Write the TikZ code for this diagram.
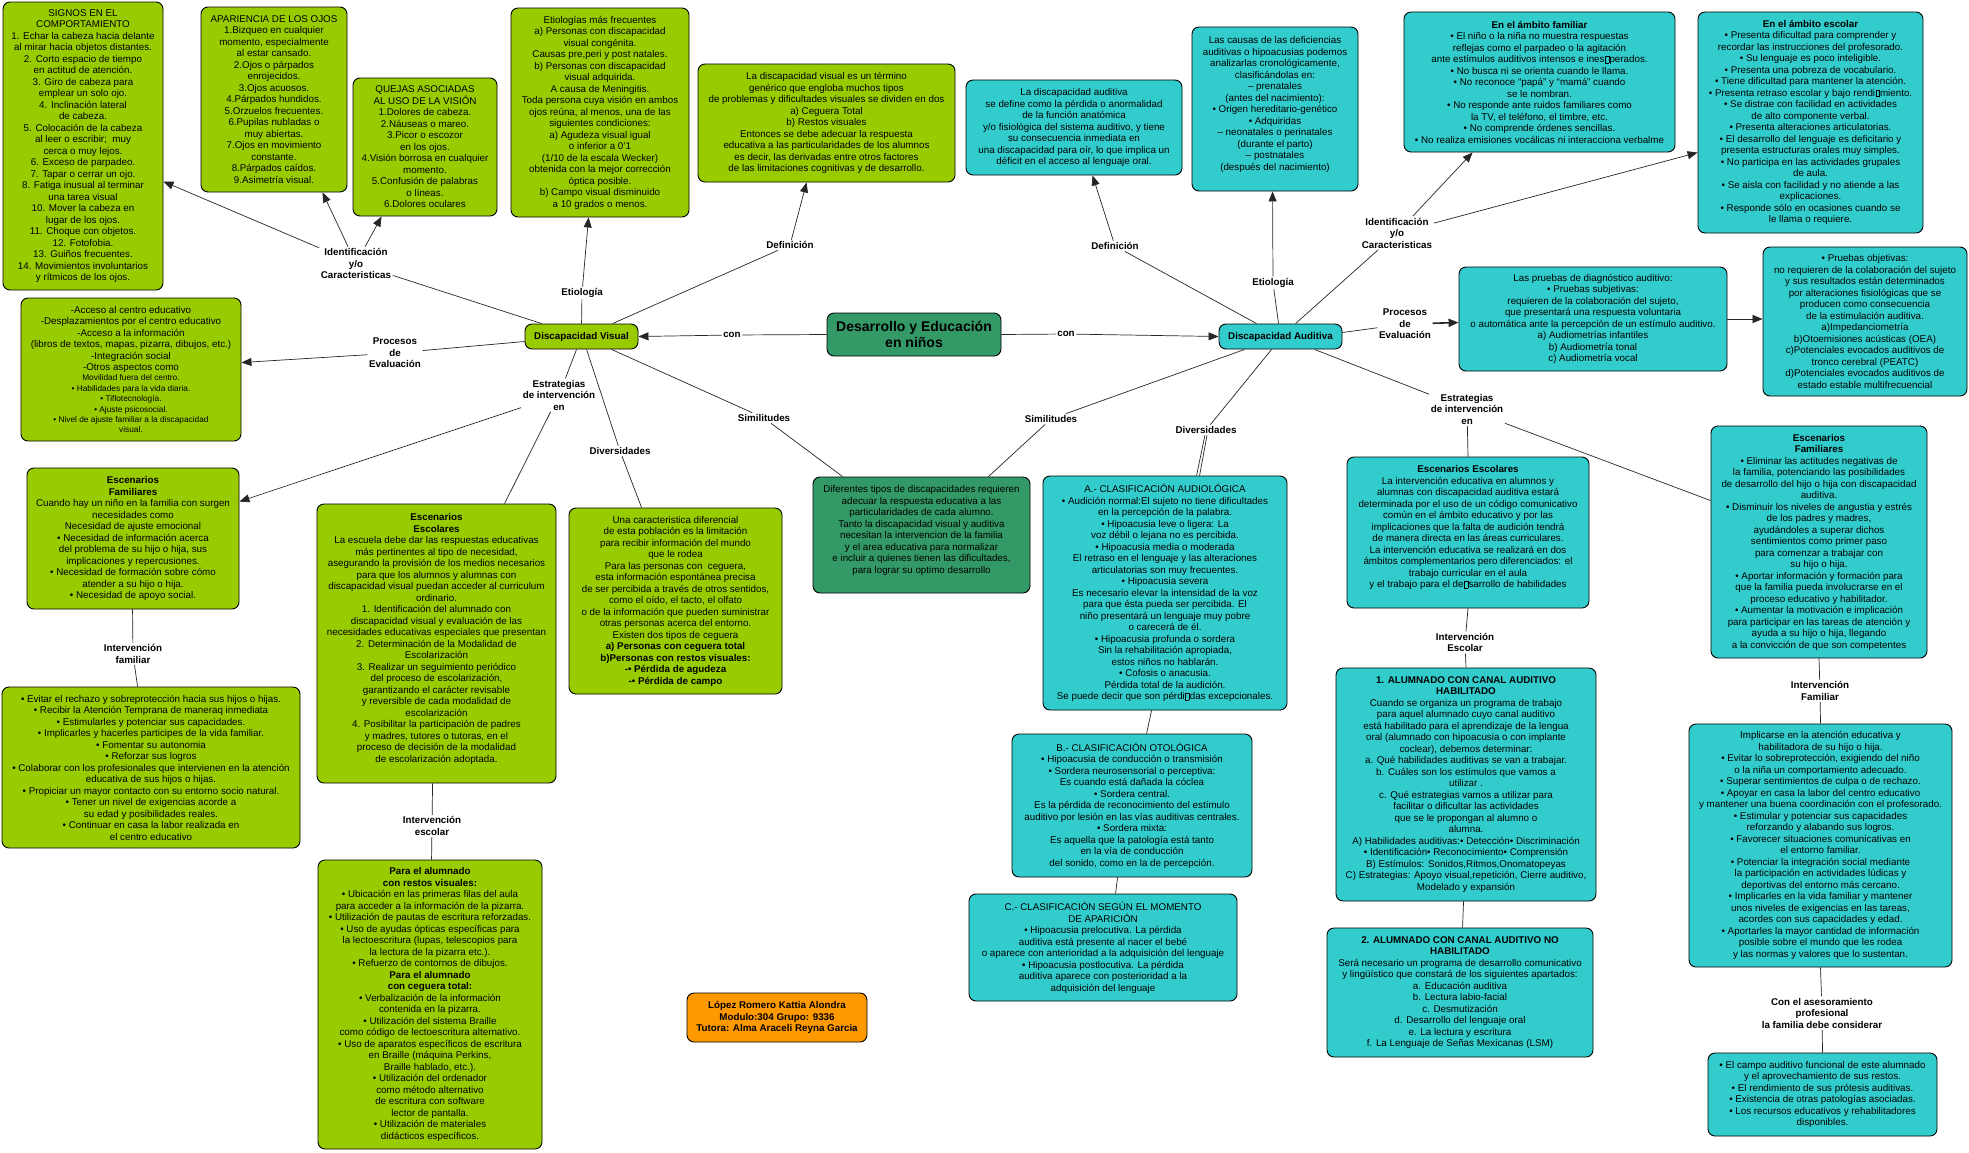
\documentclass[tikz,border=0pt]{standalone}
\usepackage{fontspec}
\setmainfont{Liberation Sans}
\usetikzlibrary{arrows.meta,calc}
\definecolor{cmGreen}{HTML}{99CC00}
\definecolor{cmTeal}{HTML}{33CCCC}
\definecolor{cmDark}{HTML}{339966}
\definecolor{cmOrange}{HTML}{FF9900}
\newcommand{\tx}{\fontsize{9.8}{11.5}\selectfont}
\newcommand{\smf}{\fontsize{8.3}{10}\selectfont}
\newcommand{\gbx}{\kern0.4pt{\setlength{\fboxsep}{0pt}\setlength{\fboxrule}{0.3pt}\fbox{\rule{0pt}{6.5pt}\hspace{3.5pt}}}\kern0.4pt}
\begin{document}
\begin{tikzpicture}[x=1pt,y=-1pt,
 bx/.style={draw=black, line width=0.9pt, rounded corners=7pt, align=center, font=\tx, inner sep=2pt, text=black},
 gb/.style={bx, fill=cmGreen},
 tb/.style={bx, fill=cmTeal},
 db/.style={bx, fill=cmDark},
 ob/.style={bx, fill=cmOrange},
 lbl/.style={font=\tx\bfseries, align=center, inner sep=1.5pt},
 conn/.style={line width=0.7pt, draw=black!85},
 arr/.style={conn, -{Triangle[length=10pt,width=8pt]}}]
\fill[white] (0,0) rectangle (1969,1152);
\useasboundingbox (0,0) rectangle (1969,1152);

% ---------------- central ----------------
\node[db, minimum width=174pt, minimum height=43pt, font=\fontsize{14}{16.5}\selectfont\bfseries] (des) at (914,334.5) {Desarrollo y Educación\\en niños};
\node[gb, minimum width=113pt, minimum height=25pt, font=\tx\bfseries] (dv) at (581.5,336.5) {Discapacidad Visual};
\node[tb, minimum width=123pt, minimum height=25pt, font=\tx\bfseries] (da) at (1280.5,336.5) {Discapacidad Auditiva};

% ---------------- visual boxes ----------------
\node[gb, minimum width=160pt, minimum height=288pt] (signos) at (83,146) {SIGNOS EN EL\\
COMPORTAMIENTO\\
1. Echar la cabeza hacia delante\\
al mirar hacia objetos distantes.\\
2. Corto espacio de tiempo\\
en actitud de atención.\\
3. Giro de cabeza para\\
emplear un solo ojo.\\
4. Inclinación lateral\\
de cabeza.\\
5. Colocación de la cabeza\\
al leer o escribir;\ \ muy\\
cerca o muy lejos.\\
6. Exceso de parpadeo.\\
7. Tapar o cerrar un ojo.\\
8. Fatiga inusual al terminar\\
una tarea visual\\
10. Mover la cabeza en\\
lugar de los ojos.\\
11. Choque con objetos.\\
12. Fotofobia.\\
13. Guiños frecuentes.\\
14. Movimientos involuntarios\\
y rítmicos de los ojos.};

\node[gb, minimum width=146pt, minimum height=185pt] (apar) at (274,99.5) {APARIENCIA DE LOS OJOS\\
1.Bizqueo en cualquier\\
momento, especialmente\\
al estar cansado.\\
2.Ojos o párpados\\
enrojecidos.\\
3.Ojos acuosos.\\
4.Párpados hundidos.\\
5.Orzuelos frecuentes.\\
6.Pupilas nubladas o\\
muy abiertas.\\
7.Ojos en movimiento\\
constante.\\
8.Párpados caídos.\\
9.Asimetría visual.};

\node[gb, minimum width=144pt, minimum height=138pt] (quejas) at (425,147) {QUEJAS ASOCIADAS\\
AL USO DE LA VISIÓN\\
1.Dolores de cabeza.\\
2.Náuseas o mareo.\\
3.Picor o escozor\\
en los ojos.\\
4.Visión borrosa en cualquier\\
momento.\\
5.Confusión de palabras\\
o líneas.\\
6.Dolores oculares};

\node[gb, minimum width=178pt, minimum height=209pt] (etv) at (600,112.5) {Etiologías más frecuentes\\
a) Personas con discapacidad\\
visual congénita.\\
Causas pre,peri y post natales.\\
b) Personas con discapacidad\\
visual adquirida.\\
A causa de Meningitis.\\
Toda persona cuya visión en ambos\\
ojos reúna, al menos, una de las\\
siguientes condiciones:\\
a) Agudeza visual igual\\
o inferior a 0'1\\
(1/10 de la escala Wecker)\\
obtenida con la mejor corrección\\
óptica posible.\\
b) Campo visual disminuido\\
a 10 grados o menos.};

\node[gb, minimum width=257pt, minimum height=118pt] (defv) at (826.5,123) {La discapacidad visual es un término\\
genérico que engloba muchos tipos\\
de problemas y dificultades visuales se dividen en dos\\
a) Ceguera Total\\
b) Restos visuales\\
Entonces se debe adecuar la respuesta\\
educativa a las particularidades de los alumnos\\
es decir, las derivadas entre otros factores\\
de las limitaciones cognitivas y de desarrollo.};

\node[gb, minimum width=220pt, minimum height=143pt] (evalv) at (131,369.5) {-Acceso al centro educativo\\
-Desplazamientos por el centro educativo\\
-Acceso a la información\\
(libros de textos, mapas, pizarra, dibujos, etc.)\\
-Integración social\\
-Otros aspectos como\\[-1.1pt]
\smf Movilidad fuera del centro.\\[-1.1pt]
\smf • Habilidades para la vida diaria.\\[-1.1pt]
\smf • Tiflotecnología.\\[-1.1pt]
\smf • Ajuste psicosocial.\\[-1.1pt]
\smf • Nivel de ajuste familiar a la discapacidad\\[-1.1pt]
\smf visual.};

\node[gb, minimum width=212pt, minimum height=141pt] (escfamv) at (133,538.5) {\textbf{Escenarios}\\
\textbf{Familiares}\\
Cuando hay un niño en la familia con surgen\\
necesidades como\\
Necesidad de ajuste emocional\\
• Necesidad de información acerca\\
del problema de su hijo o hija, sus\\
implicaciones y repercusiones.\\
• Necesidad de formación sobre cómo\\
atender a su hijo o hija.\\
• Necesidad de apoyo social.};

\node[gb, minimum width=298pt, minimum height=161pt] (intfamv) at (151,767.5) {• Evitar el rechazo y sobreprotección hacia sus hijos o hijas.\\
• Recibir la Atención Temprana de maneraq inmediata\\
• Estimularles y potenciar sus capacidades.\\
• Implicarles y hacerles participes de la vida familiar.\\
• Fomentar su autonomia\\
• Reforzar sus logros\\
• Colaborar con los profesionales que intervienen en la atención\\
educativa de sus hijos o hijas.\\
• Propiciar un mayor contacto con su entorno socio natural.\\
• Tener un nivel de exigencias acorde a\\
su edad y posibilidades reales.\\
• Continuar en casa la labor realizada en\\
el centro educativo};

\node[gb, minimum width=239pt, minimum height=279pt] (escescv) at (436.5,643.5) {\textbf{Escenarios}\\
\textbf{Escolares}\\
La escuela debe dar las respuestas educativas\\
más pertinentes al tipo de necesidad,\\
asegurando la provisión de los medios necesarios\\
para que los alumnos y alumnas con\\
discapacidad visual puedan acceder al curriculum\\
ordinario.\\
1. Identificación del alumnado con\\
discapacidad visual y evaluación de las\\
necesidades educativas especiales que presentan\\
2. Determinación de la Modalidad de\\
Escolarización\\
3. Realizar un seguimiento periódico\\
del proceso de escolarización,\\
garantizando el carácter revisable\\
y reversible de cada modalidad de\\
escolarización\\
4. Posibilitar la participación de padres\\
y madres, tutores o tutoras, en el\\
proceso de decisión de la modalidad\\
de escolarización adoptada.\\
\mbox{}};

\node[gb, minimum width=224pt, minimum height=289pt] (paraalu) at (430,1004.5) {\textbf{Para el alumnado}\\
\textbf{con restos visuales:}\\
• Ubicación en las primeras filas del aula\\
para acceder a la información de la pizarra.\\
• Utilización de pautas de escritura reforzadas.\\
• Uso de ayudas ópticas específicas para\\
la lectoescritura (lupas, telescopios para\\
la lectura de la pizarra etc.).\\
• Refuerzo de contornos de dibujos.\\
\textbf{Para el alumnado}\\
\textbf{con ceguera total:}\\
• Verbalización de la información\\
contenida en la pizarra.\\
• Utilización del sistema Braille\\
como código de lectoescritura alternativo.\\
• Uso de aparatos específicos de escritura\\
en Braille (máquina Perkins,\\
Braille hablado, etc.).\\
• Utilización del ordenador\\
como método alternativo\\
de escritura con software\\
lector de pantalla.\\
• Utilización de materiales\\
didácticos específicos.};

\node[gb, minimum width=213pt, minimum height=186pt] (divv) at (675.5,601) {Una caracteristica diferencial\\
de esta población es la limitación\\
para recibir información del mundo\\
que le rodea\\
Para las personas con\ \ ceguera,\\
esta información espontánea precisa\\
de ser percibida a través de otros sentidos,\\
como el oído, el tacto, el olfato\\
o de la información que pueden suministrar\\
otras personas acerca del entorno.\\
Existen dos tipos de ceguera\\
\textbf{a) Personas con ceguera total}\\
\textbf{b)Personas con restos visuales:}\\
\textbf{-• Pérdida de agudeza}\\
\textbf{-• Pérdida de campo}};

\node[db, minimum width=217pt, minimum height=116pt] (sim) at (921.5,535) {Diferentes tipos de discapacidades requieren\\
adecuar la respuesta educativa a las\\
particularidades de cada alumno.\\
Tanto la discapacidad visual y auditiva\\
necesitan la intervencion de la familia\\
y el area educativa para normalizar\\
e incluir a quienes tienen las dificultades,\\
para lograr su optimo desarrollo\\
\mbox{}};

\node[ob, minimum width=180pt, minimum height=49pt, font=\tx\bfseries] (author) at (777,1017.5) {López Romero Kattia Alondra\\
Modulo:304 Grupo: 9336\\
Tutora: Alma Araceli Reyna Garcia};

% ---------------- auditiva boxes ----------------
\node[tb, minimum width=216pt, minimum height=95pt] (defa) at (1074,127.5) {La discapacidad auditiva\\
se define como la pérdida o anormalidad\\
de la función anatómica\\
y/o fisiológica del sistema auditivo, y tiene\\
su consecuencia inmediata en\\
una discapacidad para oír, lo que implica un\\
déficit en el acceso al lenguaje oral.};

\node[tb, minimum width=166pt, minimum height=164pt] (eta) at (1275,109) {Las causas de las deficiencias\\
auditivas o hipoacusias podemos\\
analizarlas cronológicamente,\\
clasificándolas en:\\
– prenatales\\
(antes del nacimiento):\\
• Origen hereditario-genético\\
• Adquiridas\\
– neonatales o perinatales\\
(durante el parto)\\
– postnatales\\
(después del nacimiento)\\
\mbox{}};

\node[tb, minimum width=271pt, minimum height=140pt] (fama) at (1539.5,82) {\textbf{En el ámbito familiar}\\
• El niño o la niña no muestra respuestas\\
reflejas como el parpadeo o la agitación\\
ante estímulos auditivos intensos e ines\gbx perados.\\
• No busca ni se orienta cuando le llama.\\
• No reconoce “papá” y “mamá” cuando\\
se le nombran.\\
• No responde ante ruidos familiares como\\
la TV, el teléfono, el timbre, etc.\\
• No comprende órdenes sencillas.\\
• No realiza emisiones vocálicas ni interacciona verbalme};

\node[tb, minimum width=225pt, minimum height=221pt] (esca) at (1810.5,122.5) {\textbf{En el ámbito escolar}\\
• Presenta dificultad para comprender y\\
recordar las instrucciones del profesorado.\\
• Su lenguaje es poco inteligible.\\
• Presenta una pobreza de vocabulario.\\
• Tiene dificultad para mantener la atención.\\
• Presenta retraso escolar y bajo rendi\gbx miento.\\
• Se distrae con facilidad en actividades\\
de alto componente verbal.\\
• Presenta alteraciones articulatorias.\\
• El desarrollo del lenguaje es deficitario y\\
presenta estructuras orales muy simples.\\
• No participa en las actividades grupales\\
de aula.\\
• Se aisla con facilidad y no atiende a las\\
explicaciones.\\
• Responde sólo en ocasiones cuando se\\
le llama o requiere.};

\node[tb, minimum width=268pt, minimum height=104pt] (pruebs) at (1593,319) {Las pruebas de diagnóstico auditivo:\\
• Pruebas subjetivas:\\
requieren de la colaboración del sujeto,\\
que presentará una respuesta voluntaria\\
o automática ante la percepción de un estímulo auditivo.\\
a) Audiometrías infantiles\\
b) Audiometría tonal\\
c) Audiometría vocal};

\node[tb, minimum width=204pt, minimum height=149pt] (pruebo) at (1865,321.5) {• Pruebas objetivas:\\
no requieren de la colaboración del sujeto\\
y sus resultados están determinados\\
por alteraciones fisiológicas que se\\
producen como consecuencia\\
de la estimulación auditiva.\\
a)Impedanciometría\\
b)Otoemisiones acústicas (OEA)\\
c)Potenciales evocados auditivos de\\
tronco cerebral (PEATC)\\
d)Potenciales evocados auditivos de\\
estado estable multifrecuencial};

\node[tb, minimum width=244pt, minimum height=234pt] (aa) at (1165,593) {A.- CLASIFICACIÓN AUDIOLÓGICA\\
• Audición normal:El sujeto no tiene dificultades\\
en la percepción de la palabra.\\
• Hipoacusia leve o ligera: La\\
voz débil o lejana no es percibida.\\
• Hipoacusia media o moderada\\
El retraso en el lenguaje y las alteraciones\\
articulatorias son muy frecuentes.\\
• Hipoacusia severa\\
Es necesario elevar la intensidad de la voz\\
para que ésta pueda ser percibida. El\\
niño presentará un lenguaje muy pobre\\
o carecerá de él.\\
• Hipoacusia profunda o sordera\\
Sin la rehabilitación apropiada,\\
estos niños no hablarán.\\
• Cofosis o anacusia.\\
Pérdida total de la audición.\\
Se puede decir que son pérdi\gbx das excepcionales.};

\node[tb, minimum width=240pt, minimum height=143pt] (bb) at (1132,805.5) {B.- CLASIFICACIÓN OTOLÓGICA\\
• Hipoacusia de conducción o transmisión\\
• Sordera neurosensorial o perceptiva:\\
Es cuando está dañada la cóclea\\
• Sordera central.\\
Es la pérdida de reconocimiento del estímulo\\
auditivo por lesión en las vías auditivas centrales.\\
• Sordera mixta:\\
Es aquella que la patología está tanto\\
en la vía de conducción\\
del sonido, como en la de percepción.};

\node[tb, minimum width=268pt, minimum height=107pt] (cc) at (1103,947.5) {C.- CLASIFICACIÓN SEGÚN EL MOMENTO\\
DE APARICIÓN\\
• Hipoacusia prelocutiva. La pérdida\\
auditiva está presente al nacer el bebé\\
o aparece con anterioridad a la adquisición del lenguaje\\
• Hipoacusia postlocutiva. La pérdida\\
auditiva aparece con posterioridad a la\\
adquisición del lenguaje};

\node[tb, minimum width=242pt, minimum height=151pt] (escesca) at (1468,532.5) {\textbf{Escenarios Escolares}\\
La intervención educativa en alumnos y\\
alumnas con discapacidad auditiva estará\\
determinada por el uso de un código comunicativo\\
común en el ámbito educativo y por las\\
implicaciones que la falta de audición tendrá\\
de manera directa en las áreas curriculares.\\
La intervención educativa se realizará en dos\\
ámbitos complementarios pero diferenciados: el\\
trabajo curricular en el aula\\
y el trabajo para el de\gbx sarrollo de habilidades\\
\mbox{}};

\node[tb, minimum width=260pt, minimum height=233pt] (unoa) at (1466,784.5) {\textbf{1. ALUMNADO CON CANAL AUDITIVO}\\
\textbf{HABILITADO}\\
Cuando se organiza un programa de trabajo\\
para aquel alumnado cuyo canal auditivo\\
está habilitado para el aprendizaje de la lengua\\
oral (alumnado con hipoacusia o con implante\\
coclear), debemos determinar:\\
a. Qué habilidades auditivas se van a trabajar.\\
b. Cuáles son los estímulos que vamos a\\
utilizar .\\
c. Qué estrategias vamos a utilizar para\\
facilitar o dificultar las actividades\\
que se le propongan al alumno o\\
alumna.\\
A) Habilidades auditivas:• Detección• Discriminación\\
• Identificación• Reconocimiento• Comprensión\\
B) Estímulos: Sonidos,Ritmos,Onomatopeyas\\
C) Estrategias: Apoyo visual,repetición, Cierre auditivo,\\
Modelado y expansión};

\node[tb, minimum width=266pt, minimum height=129pt] (dosa) at (1460,992.5) {\textbf{2. ALUMNADO CON CANAL AUDITIVO NO}\\
\textbf{HABILITADO}\\
Será necesario un programa de desarrollo comunicativo\\
y lingüístico que constará de los siguientes apartados:\\
a. Educación auditiva\\
b. Lectura labio-facial\\
c. Desmutización\\
d. Desarrollo del lenguaje oral\\
e. La lectura y escritura\\
f. La Lenguaje de Señas Mexicanas (LSM)};

\node[tb, minimum width=216pt, minimum height=232pt] (escfama) at (1819,542) {\textbf{Escenarios}\\
\textbf{Familiares}\\
• Eliminar las actitudes negativas de\\
la familia, potenciando las posibilidades\\
de desarrollo del hijo o hija con discapacidad\\
auditiva.\\
• Disminuir los niveles de angustia y estrés\\
de los padres y madres,\\
ayudándoles a superar dichos\\
sentimientos como primer paso\\
para comenzar a trabajar con\\
su hijo o hija.\\
• Aportar información y formación para\\
que la familia pueda involucrarse en el\\
proceso educativo y habilitador.\\
• Aumentar la motivación e implicación\\
para participar en las tareas de atención y\\
ayuda a su hijo o hija, llegando\\
a la convicción de que son competentes};

\node[tb, minimum width=263pt, minimum height=243pt] (intfama) at (1820.5,845.5) {Implicarse en la atención educativa y\\
habilitadora de su hijo o hija.\\
• Evitar lo sobreprotección, exigiendo del niño\\
o la niña un comportamiento adecuado.\\
• Superar sentimientos de culpa o de rechazo.\\
• Apoyar en casa la labor del centro educativo\\
y mantener una buena coordinación con el profesorado.\\
• Estimular y potenciar sus capacidades\\
reforzando y alabando sus logros.\\
• Favorecer situaciones comunicativas en\\
el entorno familiar.\\
• Potenciar la integración social mediante\\
la participación en actividades lúdicas y\\
deportivas del entorno más cercano.\\
• Implicarles en la vida familiar y mantener\\
unos niveles de exigencias en las tareas,\\
acordes con sus capacidades y edad.\\
• Aportarles la mayor cantidad de información\\
posible sobre el mundo que les rodea\\
y las normas y valores que lo sustentan.};

\node[tb, minimum width=229pt, minimum height=83pt] (lastb) at (1822.5,1094.5) {• El campo auditivo funcional de este alumnado\\
y el aprovechamiento de sus restos.\\
• El rendimiento de sus prótesis auditivas.\\
• Existencia de otras patologías asociadas.\\
• Los recursos educativos y rehabilitadores\\
disponibles.};

% ---------------- labels ----------------
\node[lbl] (lcv) at (732,335) {con};
\node[lbl] (lca) at (1066,334) {con};
\node[lbl] (letv) at (582,293) {Etiología};
\node[lbl] (ldefv) at (790,245) {Definición};
\node[lbl] (lidv) at (356,263.5) {Identificación\\y/o\\Caracteristicas};
\node[lbl] (lprocv) at (395,353) {Procesos\\de\\Evaluación};
\node[lbl] (lestv) at (559,395) {Estrategias\\de intervención\\en};
\node[lbl] (ldivv) at (620,451) {Diversidades};
\node[lbl] (lsimv) at (764,418) {Similitudes};
\node[lbl] (lifv) at (133,654) {Intervención\\familiar};
\node[lbl] (liev) at (432,826) {Intervención\\escolar};
\node[lbl] (ldefa) at (1115,246) {Definición};
\node[lbl] (leta) at (1273,283) {Etiología};
\node[lbl] (lida) at (1397,233) {Identificación\\y/o\\Caracteristicas};
\node[lbl] (lproca) at (1405,324) {Procesos\\de\\Evaluación};
\node[lbl] (lesta) at (1467,409) {Estrategias\\de intervención\\en};
\node[lbl] (ldiva) at (1206,430) {Diversidades};
\node[lbl] (lsima) at (1051,419) {Similitudes};
\node[lbl] (liea) at (1465,642.5) {Intervención\\Escolar};
\node[lbl] (lifa) at (1820,691) {Intervención\\Familiar};
\node[lbl] (lasea) at (1822,1013) {Con el asesoramiento\\profesional\\la familia debe considerar};

% ---------------- connectors: visual ----------------
\draw[conn] (des.west) -- (lcv);
\draw[arr] (lcv) -- (dv.east);
\draw[conn] ($(dv.north west)+(57,0)$) -- (letv);
\draw[arr] (letv) -- ($(etv.south west)+(78,0)$);
\draw[conn] ($(dv.north west)+(88,0)$) -- (ldefv);
\draw[arr] (ldefv) -- ($(defv.south west)+(109,0)$);
\draw[conn] ($(dv.north west)+(17,0)$) -- (lidv);
\draw[arr] (lidv) -- ($(signos.north east)+(0,180)$);
\draw[arr] (lidv) -- ($(apar.south west)+(122,0)$);
\draw[arr] (lidv) -- ($(quejas.south west)+(29,0)$);
\draw[conn] ($(dv.west)+(0,5)$) -- (lprocv);
\draw[arr] (lprocv) -- ($(evalv.north east)+(0,65)$);
\draw[conn] ($(dv.south west)+(52,0)$) -- (lestv);
\draw[arr] (lestv) -- ($(escfamv.north east)+(0,34)$);
\draw[conn] (lestv) -- ($(escescv.north west)+(188,0)$);
\draw[conn] ($(dv.south west)+(62,0)$) -- (ldivv);
\draw[conn] (ldivv) -- ($(divv.north west)+(73,0)$);
\draw[conn] ($(dv.south west)+(87,0)$) -- (lsimv);
\draw[conn] (lsimv) -- ($(sim.north west)+(30,0)$);
\draw[conn] ($(escfamv.south west)+(106,0)$) -- (lifv);
\draw[conn] (lifv) -- ($(intfamv.north west)+(136,0)$);
\draw[conn] ($(escescv.south west)+(116,0)$) -- (liev);
\draw[conn] (liev) -- ($(paraalu.north west)+(114,0)$);

% ---------------- connectors: auditiva ----------------
\draw[conn] (des.east) -- (lca);
\draw[arr] (lca) -- (da.west);
\draw[conn] ($(da.north west)+(38,0)$) -- (ldefa);
\draw[arr] (ldefa) -- ($(defa.south west)+(127,0)$);
\draw[conn] ($(da.north west)+(60,0)$) -- (leta);
\draw[arr] (leta) -- ($(eta.south west)+(81,0)$);
\draw[conn] ($(da.north west)+(77,0)$) -- (lida);
\draw[arr] (lida) -- ($(fama.south west)+(69,0)$);
\draw[arr] (lida) -- ($(esca.north west)+(0,141)$);
\draw[conn] ($(da.east)+(0,-4)$) -- (lproca);
\draw[arr, line width=1.6pt] (lproca) -- ($(pruebs.north west)+(0,56)$);
\draw[arr] (pruebs.east) -- (pruebs.east -| pruebo.west);
\draw[conn] ($(da.south west)+(96,0)$) -- (lesta);
\draw[conn] (lesta) -- ($(escfama.north west)+(0,75)$);
\draw[conn] (lesta) -- (escesca.north);
\draw[conn] ($(da.south west)+(53,0)$) -- (ldiva);
\draw[conn] (ldiva) -- ($(aa.north west)+(154,0)$);
\draw[conn] ($(ldiva.south)+(1,0)$) -- ($(aa.north west)+(157,0)$);
\draw[conn] ($(da.south west)+(26,0)$) -- (lsima);
\draw[conn] (lsima) -- ($(sim.north east)+(-42,0)$);
\draw[conn] ($(aa.south west)+(109,0)$) -- ($(bb.north west)+(135,0)$);
\draw[conn] ($(bb.south west)+(106,0)$) -- ($(cc.north west)+(147,0)$);
\draw[conn] (escesca.south) -- (liea);
\draw[conn] (liea) -- (unoa.north);
\draw[conn] ($(unoa.south west)+(128,0)$) -- ($(dosa.north west)+(136,0)$);
\draw[conn] (escfama.south) -- (lifa);
\draw[conn] (lifa) -- (intfama.north);
\draw[conn] (intfama.south) -- (lasea);
\draw[conn] (lasea) -- (lastb.north);
\end{tikzpicture}
\end{document}
